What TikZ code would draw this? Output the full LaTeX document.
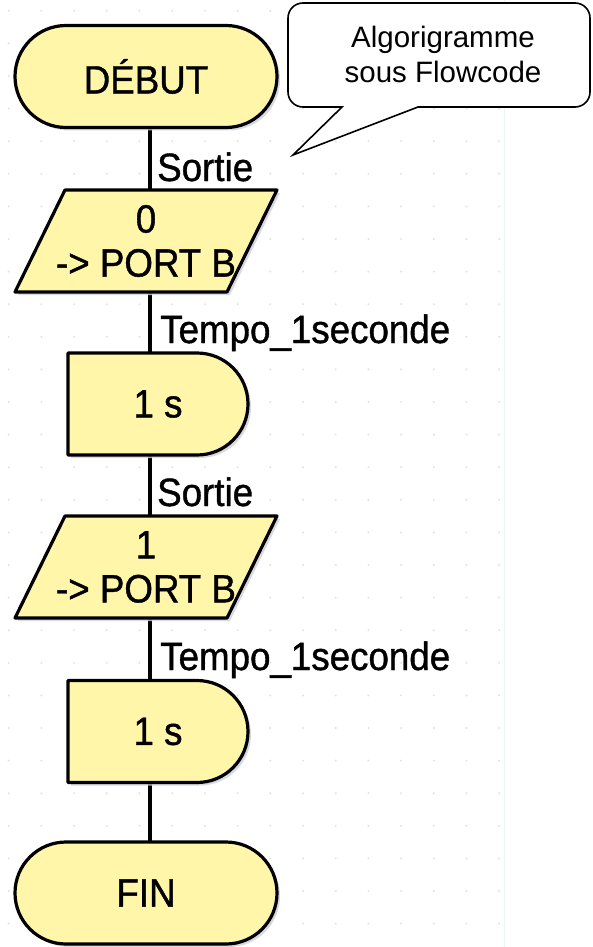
\documentclass[tikz,border=0pt]{standalone}
\usepackage{fontspec}
\usetikzlibrary{shapes.misc,calc,shadows}
\newfontfamily\fcfont[FakeStretch=0.93,FakeBold=1]{Liberation Sans}
\newfontfamily\notefont{Liberation Sans}
\newcommand\fcbig{\fontsize{39.5}{44}\selectfont}
\newcommand\notesize{\fontsize{29.5}{35}\selectfont}
\definecolor{fcyellow}{RGB}{255,246,170}
\definecolor{fcshadow}{RGB}{208,208,218}
\definecolor{griddot}{RGB}{226,226,226}
\definecolor{paneledge}{RGB}{238,244,244}
\pgfdeclarelayer{bg}
\pgfdeclarelayer{shapes}
\pgfsetlayers{bg,shapes,main}
\begin{document}
\begin{tikzpicture}[
  x=1pt, y={(0pt,-1pt)},
  shade/.style={drop shadow={shadow xshift=3pt, shadow yshift=-3pt, fill=fcshadow, opacity=0.8}},
  fcshape/.style={draw=black, line width=3.2pt, fill=fcyellow, line join=round, shade},
  term/.style={rounded rectangle, fcshape, minimum width=262pt, minimum height=102pt,
               inner sep=0pt, outer sep=0pt, font=\fcfont\fcbig},
  slot/.style={inner sep=0pt, outer sep=0pt, minimum height=102pt, align=center,
               font=\fcfont\fcbig},
  wire/.style={line width=3.2pt},
  lbl/.style={anchor=base west, inner sep=0pt, font=\fcfont\fcbig},
  callout/.style={draw=black, line width=1.6pt, fill=white, line join=miter},
  notetext/.style={align=center, inner sep=0pt, font=\notefont\notesize}
]
\useasboundingbox (0,0) rectangle (592,947);

% page background and dotted editor grid
\begin{pgfonlayer}{bg}
  \fill[white] (0,0) rectangle (592,947);
  \foreach \i in {0,...,15}
    \foreach \j in {0,...,28}
      \fill[griddot] (8.7+32.7*\i, 10.8+32.6*\j) circle[radius=1.1pt];
  \draw[paneledge, line width=1pt] (504,0) -- (504,947);
\end{pgfonlayer}

% flowchart nodes
\node[term] (deb) at (146,76.5) {DÉBUT};
\node[slot, minimum width=262pt] (p1) at (146,241) {0\\-> PORT B};
\node[slot, minimum width=180pt] (d1) at (158,404) {1 s};
\node[slot, minimum width=262pt] (p2) at (146,567) {1\\-> PORT B};
\node[slot, minimum width=180pt] (d2) at (158,731.5) {1 s};
\node[term] (fin) at (146,893) {FIN};

% icon names above each step
\node[lbl] (s1) at (157,181) {Sortie};
\node[lbl] (t1) at (160,343) {Tempo\_1seconde};
\node[lbl] (s2) at (157,506) {Sortie};
\node[lbl] (t2) at (160,670) {Tempo\_1seconde};

% vertical flow line
\coordinate (spine) at (150,0);

\begin{pgfonlayer}{shapes}
  \draw[wire] (deb.south -| spine) -- (p1.north -| spine);
  \draw[wire] (p1.south -| spine) -- (d1.north -| spine);
  \draw[wire] (d1.south -| spine) -- (p2.north -| spine);
  \draw[wire] (p2.south -| spine) -- (d2.north -| spine);
  \draw[wire] (d2.south -| spine) -- (fin.north -| spine);

  % output icons (parallelograms)
  \foreach \p in {p1,p2}
    \draw[fcshape] ($(\p.north west)+(50,0)$) -- (\p.north east)
      -- ($(\p.south east)+(-50,0)$) -- (\p.south west) -- cycle;

  % delay icons
  \foreach \d in {d1,d2}
    \draw[fcshape] (\d.north west) -- ($(\d.north east)+(-51,0)$)
      arc[start angle=90, end angle=-90, radius=51pt] -- (\d.south west) -- cycle;

  % speech bubble
  \draw[callout] (342,107) -- (303,107)
    arc[start angle=270, end angle=180, radius=15pt] -- (288,18)
    arc[start angle=180, end angle=90, radius=15pt] -- (575,3)
    arc[start angle=90, end angle=0, radius=15pt] -- (590,92)
    arc[start angle=0, end angle=-90, radius=15pt] -- (418,107)
    -- (293,155) -- cycle;
\end{pgfonlayer}

\node[notetext] (note) at (443,54) {Algorigramme\\sous Flowcode};
\end{tikzpicture}
\end{document}
